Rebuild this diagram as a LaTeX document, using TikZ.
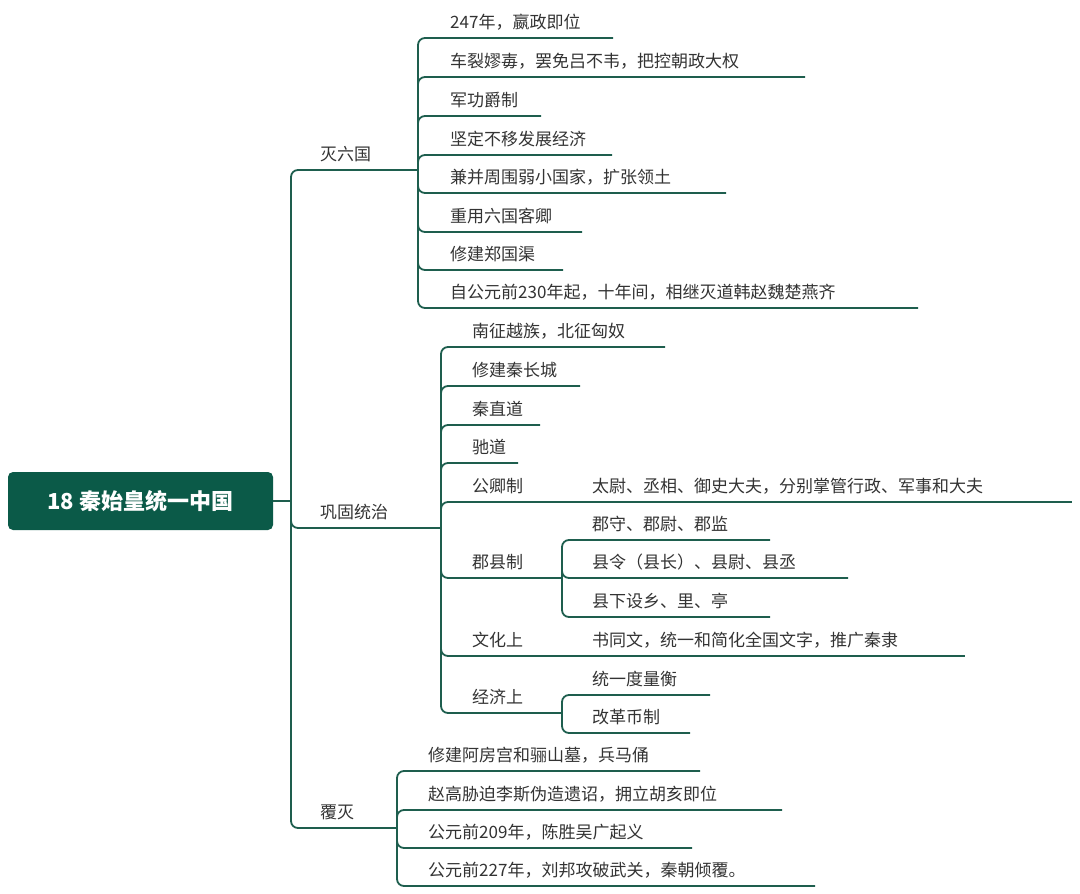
\documentclass[tikz,border=0pt]{standalone}
\usepackage{fontspec}
\newfontfamily\cjk{Noto Sans CJK SC}
\begin{document}
\begin{tikzpicture}[x=1pt,y=-1pt,
  ln/.style={draw=lc,line width=1.8pt},
  el/.style={ln,rounded corners=7pt},
  txt/.style={anchor=base west,inner sep=0pt,text=tc,font=\cjk\fontsize{17}{17}\selectfont}]
\definecolor{lc}{HTML}{1E5E4E}
\definecolor{tc}{HTML}{333333}
\definecolor{rootc}{HTML}{0B5A48}
\useasboundingbox (0,0) rectangle (1080,894);
% label macro: name, text x, underline y, text
\newcommand\lbl[4]{\node[txt] (#1) at (#2,#3-10) {#4};}
% root
\node[fill=rootc,rounded corners=5pt,minimum width=265pt,minimum height=58pt,text=white,font=\cjk\bfseries\fontsize{22}{22}\selectfont,inner sep=0pt] (root) at (140.5,501) {18 秦始皇统一中国};
\coordinate (t) at (291,501);
\draw[ln] (root.east) -- (t);
% level 1
\lbl{a}{320}{170}{灭六国}
\lbl{b}{320}{528}{巩固统治}
\lbl{c}{320}{828}{覆灭}
\coordinate (av) at (418,170);
\coordinate (bv) at (441,528);
\coordinate (cv) at (397,828);
\draw[el] (t) |- (av);
\draw[el] (t) |- (bv);
\draw[el] (t) |- (cv);
% group a
\foreach \n/\y/\e/\s in {a1/38/613/{247年，嬴政即位},a2/77/805/{车裂嫪毐，罢免吕不韦，把控朝政大权},a3/116/541/{军功爵制},a4/155/612/{坚定不移发展经济},a5/193/726/{兼并周围弱小国家，扩张领土},a6/232/582/{重用六国客卿},a7/270/563/{修建郑国渠},a8/308/918/{自公元前230年起，十年间，相继灭道韩赵魏楚燕齐}}{
  \lbl{\n}{450}{\y}{\s}
  \coordinate (\n e) at (\e,\y);
  \draw[el] (av) |- (\n e);
}
% group b
\foreach \n/\y/\e/\s in {b1/347/665/{南征越族，北征匈奴},b2/386/580/{修建秦长城},b3/425/540/{秦直道},b4/463/518/{驰道},b5/502/562/{公卿制},b6/578/562/{郡县制},b7/656/562/{文化上},b8/713/562/{经济上}}{
  \lbl{\n}{472}{\y}{\s}
  \coordinate (\n e) at (\e,\y);
  \draw[el] (bv) |- (\n e);
}
% sub items
\lbl{b51}{592}{502}{太尉、丞相、御史大夫，分别掌管行政、军事和大夫}
\coordinate (b51e) at (1072,502);
\draw[ln] (b5e) -- (b51e);
\lbl{b71}{592}{656}{书同文，统一和简化全国文字，推广秦隶}
\coordinate (b71e) at (965,656);
\draw[ln] (b7e) -- (b71e);
\foreach \n/\y/\e/\s in {b61/540/770/{郡守、郡尉、郡监},b62/578/848/{县令（县长）、县尉、县丞},b63/617/770/{县下设乡、里、亭}}{
  \lbl{\n}{592}{\y}{\s}
  \coordinate (\n e) at (\e,\y);
  \draw[el] (b6e) |- (\n e);
}
\foreach \n/\y/\e/\s in {b81/695/710/{统一度量衡},b82/733/690/{改革币制}}{
  \lbl{\n}{592}{\y}{\s}
  \coordinate (\n e) at (\e,\y);
  \draw[el] (b8e) |- (\n e);
}
% group c
\foreach \n/\y/\e/\s in {c1/771/700/{修建阿房宫和骊山墓，兵马俑},c2/810/782/{赵高胁迫李斯伪造遗诏，拥立胡亥即位},c3/848/692/{公元前209年，陈胜吴广起义},c4/886/815/{公元前227年，刘邦攻破武关，秦朝倾覆。}}{
  \lbl{\n}{428}{\y}{\s}
  \coordinate (\n e) at (\e,\y);
  \draw[el] (cv) |- (\n e);
}
\end{tikzpicture}
\end{document}
